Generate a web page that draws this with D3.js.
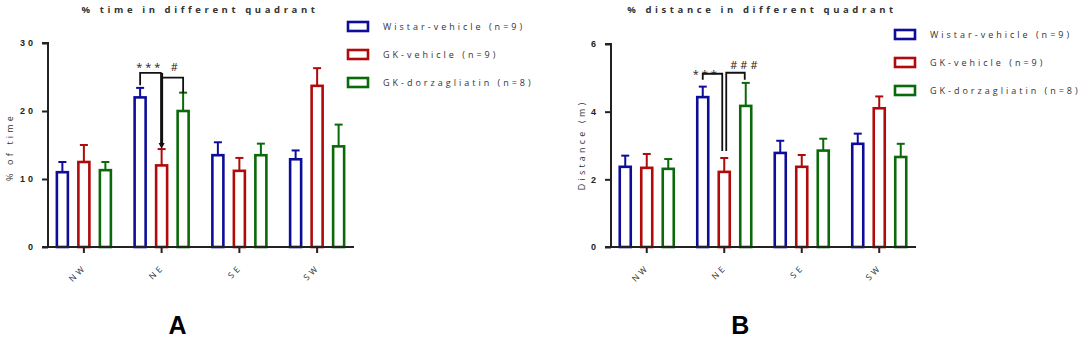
<!DOCTYPE html>
<html>
<head>
<meta charset="utf-8">
<script src="https://cdn.jsdelivr.net/npm/d3@7"></script>
<style>
  html, body { margin: 0; padding: 0; background: #fff; }
  svg { display: block; font-family: "Open Sans", "Liberation Sans", sans-serif; }
</style>
</head>
<body>
<svg id="chart" width="1080" height="341"></svg>
<script>
// Quadrant categories and groups
const quadrants = ["NW", "NE", "SE", "SW"];
const groups = ["Wistar-vehicle (n=9)", "GK-vehicle (n=9)", "GK-dorzagliatin (n=8)"];
const groupColors = ["#0d0d9a", "#b00a0a", "#0a6a0a"];

// Panel A: % time in each quadrant (mean, SEM)
const timeWistar = [11.0, 22.0, 13.5, 12.9];
const timeWistarSem = [1.5, 1.4, 1.9, 1.3];
const timeGKVehicle = [12.5, 12.0, 11.2, 23.7];
const timeGKVehicleSem = [2.5, 2.4, 1.9, 2.6];
const timeGKDorz = [11.3, 20.0, 13.5, 14.8];
const timeGKDorzSem = [1.2, 2.7, 1.7, 3.2];
const timeTicks = [0, 10, 20, 30];

// Panel B: distance in each quadrant, metres (mean, SEM)
const distWistar = [2.37, 4.43, 2.78, 3.05];
const distWistarSem = [0.33, 0.31, 0.36, 0.30];
const distGKVehicle = [2.34, 2.22, 2.37, 4.10];
const distGKVehicleSem = [0.41, 0.41, 0.35, 0.35];
const distGKDorz = [2.31, 4.17, 2.85, 2.66];
const distGKDorzSem = [0.29, 0.68, 0.35, 0.39];
const distTicks = [0, 2, 4, 6];

const svg = d3.select("#chart");
const spaced = "3px";

function drawPanel(p) {
  const g = svg.append("g");
  const x = d3.scaleBand().domain(quadrants).range(p.xRange);
  const sub = d3.scalePoint().domain(groups).range([-21.5, 21.5]);
  const y = d3.scaleLinear().domain(p.yDomain).range([247, p.yTop]);
  const x0 = p.axisX;
  const cx = q => x(q) + x.bandwidth() / 2;

  // title
  g.append("text")
    .attr("x", p.titleX).attr("y", 13)
    .attr("text-anchor", "middle")
    .style("font-size", "9.5px").style("font-weight", "bold")
    .style("letter-spacing", "3.6px").attr("fill", "#333")
    .text(p.title);

  // y axis
  const yAxis = d3.axisLeft(y).tickValues(p.ticks).tickSize(6).tickPadding(6)
    .tickFormat(d3.format("d"));
  const ya = g.append("g").attr("transform", `translate(${x0},0)`).call(yAxis);
  ya.select(".domain").attr("stroke", "#222").attr("stroke-width", 2)
    .attr("d", `M-6,${y(p.yDomain[1])}H0V${y(0)}`);
  ya.selectAll(".tick line").attr("stroke", "#222").attr("stroke-width", 2);
  ya.selectAll(".tick text").style("font-size", "9px").style("font-weight", "bold")
    .style("letter-spacing", spaced).attr("fill", "#222");

  g.append("text")
    .attr("transform", `translate(${p.yLabelX},${p.yLabelY}) rotate(-90)`)
    .attr("text-anchor", "middle")
    .style("font-size", "9px").style("letter-spacing", "3.2px").attr("fill", "#333")
    .text(p.yLabel);

  // bars with upper error bars
  p.series.forEach((s, i) => {
    const gs = g.append("g");
    const col = groupColors[i];
    quadrants.forEach((q, j) => {
      const c = cx(q) + sub(groups[i]);
      const top = y(s.mean[j]);
      const err = y(s.mean[j] + s.sem[j]);
      gs.append("line").attr("x1", c).attr("x2", c).attr("y1", top).attr("y2", err)
        .attr("stroke", col).attr("stroke-width", 2);
      gs.append("line").attr("x1", c - 4).attr("x2", c + 4).attr("y1", err).attr("y2", err)
        .attr("stroke", col).attr("stroke-width", 2);
      gs.append("rect").attr("x", c - 5.5).attr("width", 11)
        .attr("y", top).attr("height", y(0) - top)
        .attr("fill", "#fff").attr("stroke", col).attr("stroke-width", 2.6);
    });
  });

  // x axis
  const xAxis = d3.axisBottom(x).tickSize(6).tickFormat("");
  const xa = g.append("g").attr("transform", `translate(0,${y(0)})`).call(xAxis);
  xa.select(".domain").attr("stroke", "#222").attr("stroke-width", 2)
    .attr("d", `M${x0 - 6},0H${p.axisEnd}`);
  xa.selectAll(".tick line").attr("stroke", "#222").attr("stroke-width", 2);
  quadrants.forEach(q => {
    g.append("text")
      .attr("transform", `translate(${cx(q) + 3},${y(0) + 21}) rotate(-45)`)
      .attr("text-anchor", "end")
      .style("font-size", "8.5px").style("letter-spacing", spaced).attr("fill", "#333")
      .text(q);
  });

  // panel letter
  g.append("text")
    .attr("x", cx("NE") + 16).attr("y", 334)
    .attr("text-anchor", "middle")
    .style("font-size", "25px").style("font-weight", "bold")
    .style("font-family", "'Liberation Sans', Arial, sans-serif")
    .attr("fill", "#000")
    .text(p.letter);

  // legend
  const lg = g.append("g");
  groups.forEach((name, i) => {
    const ly = p.legendY + i * 28;
    lg.append("rect").attr("x", p.legendX).attr("y", ly - 5).attr("width", 20).attr("height", 9)
      .attr("fill", "#fff").attr("stroke", groupColors[i]).attr("stroke-width", 2.6);
    lg.append("text").attr("x", p.legendX + 35).attr("y", ly + 3)
      .style("font-size", "9px").style("letter-spacing", spaced).attr("fill", "#333")
      .text(name);
  });

  return { g, x, y, cx, sub };
}

// significance brackets
function bracket(g, pts, width) {
  g.append("path").attr("d", d3.line()(pts))
    .attr("fill", "none").attr("stroke", "#111").attr("stroke-width", width || 1.8);
}
function label(g, x, y, t) {
  g.append("text").attr("x", x).attr("y", y)
    .style("font-size", "11px").style("letter-spacing", "3px").attr("fill", "#222")
    .text(t);
}

const A = drawPanel({
  title: "% time in different quadrant", titleX: 200,
  xRange: [45, 356], axisX: 48, axisEnd: 354,
  yDomain: [0, 30], yTop: 43, ticks: timeTicks,
  yLabel: "% of time", yLabelX: 13, yLabelY: 147,
  letter: "A", legendX: 348, legendY: 27,
  series: [
    { mean: timeWistar, sem: timeWistarSem },
    { mean: timeGKVehicle, sem: timeGKVehicleSem },
    { mean: timeGKDorz, sem: timeGKDorzSem }
  ]
});
{
  const { g, y, cx, sub } = A;
  const bx = cx("NE") + sub(groups[0]);
  const rx = cx("NE") + sub(groups[1]);
  const gx = cx("NE") + sub(groups[2]);
  bracket(g, [[bx, y(23.8)], [bx, y(25.6)], [rx, y(25.6)]]);
  bracket(g, [[rx, y(25.6)], [rx, y(14.4) - 4]], 3);
  g.append("path").attr("d", d3.line()([[rx - 3, y(14.4) - 6], [rx + 3, y(14.4) - 6], [rx, y(14.4)]]))
    .attr("fill", "#111");
  bracket(g, [[rx, y(24.9)], [gx, y(24.9)], [gx, y(22.6)]]);
  label(g, bx - 4, y(25.6) - 2, "***");
  label(g, rx + 9, y(25.6) - 2, "#");
}

const B = drawPanel({
  title: "% distance in different quadrant", titleX: 762,
  xRange: [608, 918], axisX: 611, axisEnd: 916,
  yDomain: [0, 6], yTop: 44, ticks: distTicks,
  yLabel: "Distance (m)", yLabelX: 585, yLabelY: 145,
  letter: "B", legendX: 895, legendY: 35,
  series: [
    { mean: distWistar, sem: distWistarSem },
    { mean: distGKVehicle, sem: distGKVehicleSem },
    { mean: distGKDorz, sem: distGKDorzSem }
  ]
});
{
  const { g, y, cx, sub } = B;
  const bx = cx("NE") + sub(groups[0]);
  const rx = cx("NE") + sub(groups[1]);
  const gx = cx("NE") + sub(groups[2]);
  bracket(g, [[bx, y(4.94)], [bx, y(5.12)], [rx - 2, y(5.12)], [rx - 2, y(2.84)]]);
  bracket(g, [[rx + 2, y(2.84)], [rx + 2, y(5.15)], [gx - 1, y(5.15)], [gx - 1, y(4.94)]]);
  label(g, bx - 10, y(5.12) + 4, "***");
  label(g, rx + 6, y(5.15) - 4, "###");
}
</script>
</body>
</html>
